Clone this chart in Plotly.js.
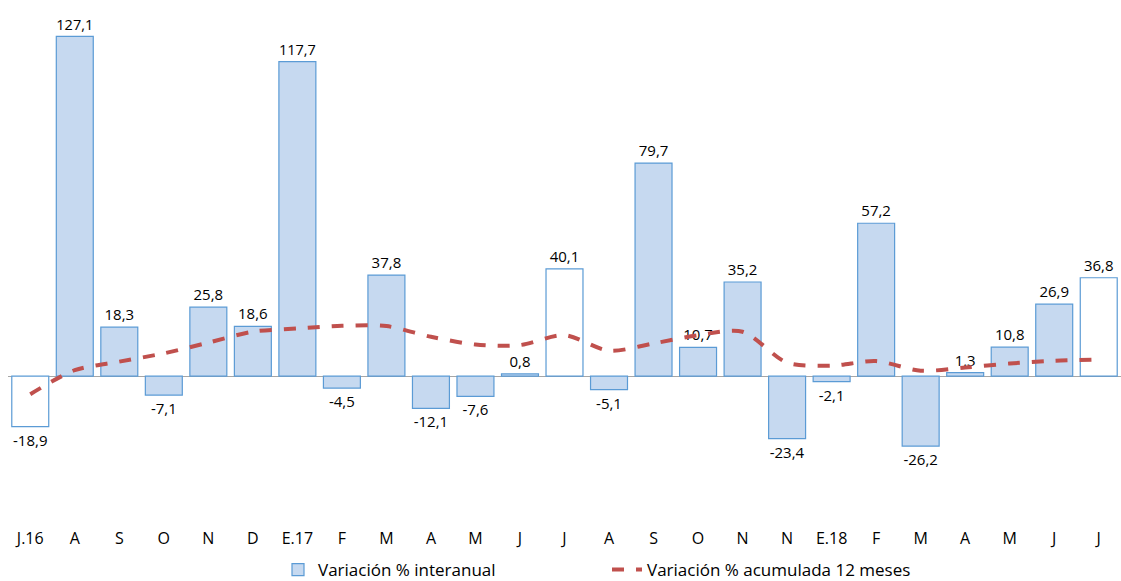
<!DOCTYPE html>
<html>
<head>
<meta charset="utf-8">
<script src="https://cdn.plot.ly/plotly-3.0.1.min.js"></script>
<style>
  html, body { margin:0; padding:0; background:#fff; }
  #chart { width:1121px; height:581px; }
</style>
</head>
<body>
<div id="chart"></div>
<script>

// ==========================================================
// DATA
// ==========================================================

let months = [
    "J.16","A","S","O","N","D","E.17","F","M","A","M","J",
    "J","A","S","O","N","N","E.18","F","M","A","M","J","J"
];

let interanual = [
    -18.9, 127.1, 18.3, -7.1, 25.8, 18.6, 117.7, -4.5, 37.8, -12.1, -7.6, 0.8,
    40.1, -5.1, 79.7, 10.7, 35.2, -23.4, -2.1, 57.2, -26.2, 1.3, 10.8, 26.9, 36.8
];

let acumulada = [
    -6.8, 2.2, 5.4, 8.5, 12.5, 16.6, 17.8, 18.8, 18.7, 14.7, 11.8, 11.6,
    15.3, 9.5, 12.2, 15.3, 16.6, 5.0, 3.9, 5.6, 2.0, 3.2, 4.7, 5.7, 6.2
];

// months drawn as hollow bars
let hollow = [0, 12, 24];


// ==========================================================
// CHART
// ==========================================================

let xs = months.map((m, i) => i);

let filledY = interanual.map((v, i) => hollow.includes(i) ? null : v);
let hollowY = interanual.map((v, i) => hollow.includes(i) ? v : null);

let fmt = v => v === null ? "" : v.toFixed(1).replace(".", ",");

let labelFont = { family: "Open Sans", size: 15, color: "#000" };
let legendFont = { family: "Open Sans", size: 17, color: "#000" };

let traces = [

    {
        x: xs,
        y: filledY,
        type: "bar",
        name: "Variación % interanual",
        legend: "legend",
        marker: { color: "#c6d9f0", line: { color: "#5b9bd5", width: 1.2 } },
        text: filledY.map(fmt),
        textposition: "outside",
        textfont: labelFont,
        cliponaxis: false,
        hoverinfo: "skip"
    },

    {
        x: xs,
        y: hollowY,
        type: "bar",
        showlegend: false,
        marker: { color: "#ffffff", line: { color: "#5b9bd5", width: 1.2 } },
        text: hollowY.map(fmt),
        textposition: "outside",
        textfont: labelFont,
        cliponaxis: false,
        hoverinfo: "skip"
    },

    {
        x: xs,
        y: acumulada,
        type: "scatter",
        mode: "lines",
        name: "Variación % acumulada 12 meses",
        legend: "legend2",
        line: { color: "#c0504d", width: 4, dash: "dash", shape: "spline", smoothing: 0.8 },
        hoverinfo: "skip"
    }

];

let layout = {
    width: 1121,
    height: 581,
    margin: { l: 8, r: 0, t: 2, b: 66 },
    paper_bgcolor: "#fff",
    plot_bgcolor: "#fff",
    separators: ",.",
    barmode: "overlay",
    bargap: 0.17,
    showlegend: true,
    font: { family: "Open Sans", size: 14, color: "#000" },
    xaxis: {
        range: [-0.5, 24.5],
        tickvals: xs,
        ticktext: months,
        showgrid: false,
        zeroline: false,
        showline: false,
        ticks: "",
        ticklabelstandoff: 12,
        tickfont: { family: "Open Sans", size: 16, color: "#000" }
    },
    yaxis: {
        range: [-52, 140],
        showgrid: false,
        showticklabels: false,
        zeroline: true,
        zerolinecolor: "#a6a6a6",
        zerolinewidth: 1
    },
    legend: {
        orientation: "h",
        xref: "container",
        yref: "container",
        x: 278 / 1121,
        xanchor: "left",
        y: 1 - 570 / 581,
        yanchor: "middle",
        font: legendFont,
        bgcolor: "rgba(0,0,0,0)"
    },
    legend2: {
        orientation: "h",
        xref: "container",
        yref: "container",
        x: 607 / 1121,
        xanchor: "left",
        y: 1 - 570 / 581,
        yanchor: "middle",
        font: legendFont,
        bgcolor: "rgba(0,0,0,0)"
    }
};

Plotly.newPlot("chart", traces, layout, { displayModeBar: false, staticPlot: true });

</script>
</body>
</html>
